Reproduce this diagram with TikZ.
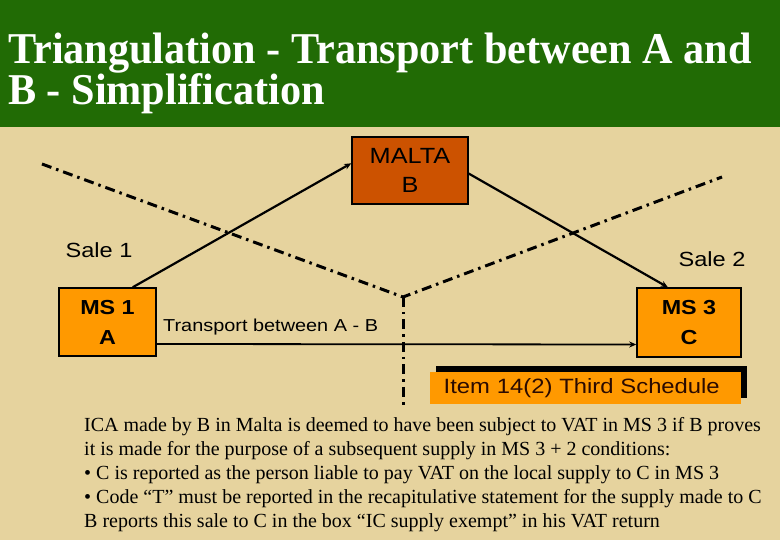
\documentclass[tikz,border=0pt]{standalone}
\usepackage{fontspec}
\setmainfont{Liberation Serif}
\setsansfont{Liberation Sans}[FakeStretch=1.15]
\newfontfamily\condserif[FakeStretch=0.96]{Liberation Serif}
\usetikzlibrary{arrows.meta,positioning}
\definecolor{slgreen}{HTML}{216B05}
\definecolor{slbeige}{HTML}{E6D39E}
\definecolor{slmalta}{HTML}{CC5200}
\definecolor{slorange}{HTML}{FF9900}
\definecolor{sltext}{HTML}{2A0A00}

\begin{document}
\begin{tikzpicture}[x=1pt,y=-1pt,font=\sffamily,
  box/.style={draw=black,line width=1.5pt,align=center,inner sep=0pt,font=\sffamily\fontsize{22}{29}\selectfont},
  sale/.style={font=\sffamily\fontsize{20.5}{24}\selectfont},
  a/.style={-{Stealth[length=7pt,width=6pt]},line width=2.2pt},
  dd/.style={line width=3pt,dash pattern=on 10pt off 5pt on 2.5pt off 5pt}]
\useasboundingbox (0,0) rectangle (780,540);
\fill[slbeige] (0,0) rectangle (780,540);
\fill[slgreen] (0,0) rectangle (780,127);
% --- title ---
\node[anchor=base west,align=left,text=white,inner sep=0pt,
  font=\condserif\bfseries\fontsize{44}{41}\selectfont] (title) at (8,105)
  {Triangulation - Transport between A and\\B - Simplification};
% --- the three parties ---
\node[box,fill=slmalta,minimum width=116pt,minimum height=67pt] (malta) at (410,170.5) {MALTA\\B};
\node[box,fill=slorange,minimum width=97pt,minimum height=68pt,font=\sffamily\bfseries\fontsize{20.3}{30}\selectfont] (ms1) at (107.5,322) {MS 1\\A};
\node[box,fill=slorange,minimum width=104pt,minimum height=69pt,font=\sffamily\bfseries\fontsize{20.3}{30}\selectfont] (ms3) at (689,322.5) {MS 3\\C};
\node[sale] (sale1) at (99,250) {Sale 1};
\node[sale] (sale2) at (712,259) {Sale 2};
\node[anchor=west,inner sep=0pt,font=\sffamily\fontsize{17.3}{20}\selectfont] (trans) at (163,327) {Transport between A - B};
\draw[a] (ms1.54) -- (malta.173);
\draw[a] (malta.357) -- (ms3.121);
\draw[a,line width=1.8pt] ([yshift=-22pt]ms1.east) -- ([yshift=-22pt]ms3.west);
% --- borders (dash-dot) ---
\coordinate (bw) at (42,164);
\coordinate (be) at (722,177);
\coordinate (bj) at (403,297);
\coordinate (bf) at (403,406);
\draw[dd] (bw) -- (bj) -- (be);
\draw[dd] (bj) -- (bf);
% --- legal reference ---
\fill[black] (436,366) rectangle (747,398);
\node[anchor=west,fill=slorange,minimum width=311pt,minimum height=32pt,inner sep=0pt,
  text width=302pt,inner xsep=0pt,align=left,
  text=sltext,font=\sffamily\fontsize{20.7}{24}\selectfont] (item) at (430,388)
  {\hspace*{9pt}Item 14(2) Third Schedule};
\node[anchor=base west,align=left,inner sep=0pt,
  font=\rmfamily\fontsize{20}{24}\selectfont] (note) at (84,527)
  {ICA made by B in Malta is deemed to have been subject to VAT in MS 3 if B proves\\
   it is made for the purpose of a subsequent supply in MS 3 + 2 conditions:\\
   • C is reported as the person liable to pay VAT on the local supply to C in MS 3\\
   • Code “T” must be reported in the recapitulative statement for the supply made to C\\
   B reports this sale to C in the box “IC supply exempt” in his VAT return};
\end{tikzpicture}
\end{document}
